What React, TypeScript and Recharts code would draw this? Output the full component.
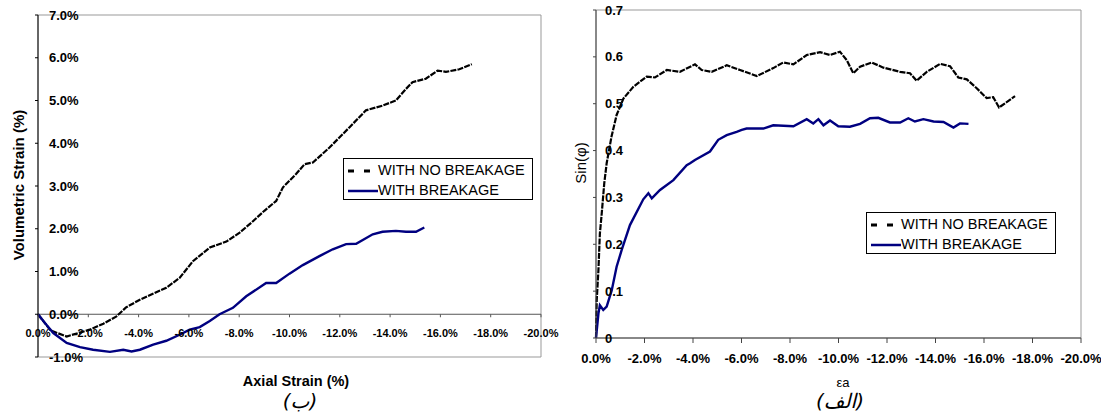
import React from 'react'
import { LineChart, Line, XAxis, YAxis, ReferenceArea, ReferenceLine } from 'recharts'

// left panel (ب): volumetric strain vs axial strain
const volNoBreakX = [0, -0.5, -1.14, -2.06, -2.6, -3.12, -3.5, -4.05, -4.57, -5.1, -5.63, -6.16, -6.83, -7.49, -8.02, -8.5, -9.0, -9.47, -9.74, -10.26, -10.6, -10.93, -11.59, -12.38, -13.04, -13.7, -14.23, -14.63, -14.89, -15.42, -15.89, -16.22, -16.75, -17.25]
const volNoBreakY = [0, -0.38, -0.52, -0.36, -0.22, -0.05, 0.16, 0.34, 0.48, 0.62, 0.85, 1.24, 1.56, 1.7, 1.91, 2.15, 2.42, 2.65, 2.97, 3.28, 3.51, 3.55, 3.9, 4.37, 4.77, 4.88, 5.0, 5.27, 5.43, 5.51, 5.7, 5.67, 5.73, 5.85]
const volBreakX = [0, -0.3, -0.61, -1.14, -1.67, -2.19, -2.86, -3.39, -3.72, -4.05, -4.58, -5.1, -5.63, -6.03, -6.43, -6.83, -7.22, -7.75, -8.28, -9.07, -9.47, -10.0, -10.53, -11.19, -11.72, -12.25, -12.65, -13.31, -13.7, -14.23, -14.63, -15.03, -15.36]
const volBreakY = [0, -0.22, -0.44, -0.67, -0.77, -0.83, -0.88, -0.83, -0.87, -0.83, -0.71, -0.62, -0.48, -0.36, -0.3, -0.16, 0, 0.15, 0.42, 0.73, 0.73, 0.95, 1.15, 1.36, 1.52, 1.64, 1.65, 1.87, 1.93, 1.95, 1.93, 1.93, 2.03]

// right panel (الف): sin(phi) vs axial strain
const sinNoBreakX = [0, -0.03, -0.1, -0.16, -0.23, -0.34, -0.44, -0.64, -0.85, -1.13, -1.54, -2.09, -2.43, -2.92, -3.46, -4.08, -4.36, -4.77, -5.39, -5.94, -6.63, -7.31, -7.72, -8.14, -8.69, -9.24, -9.65, -10.06, -10.34, -10.61, -10.89, -11.37, -11.85, -12.54, -12.95, -13.22, -13.64, -14.19, -14.6, -14.94, -15.29, -15.7, -16.11, -16.38, -16.62, -17.28]
const sinNoBreakY = [0, 0.081, 0.145, 0.223, 0.262, 0.33, 0.373, 0.43, 0.476, 0.511, 0.536, 0.558, 0.556, 0.572, 0.568, 0.584, 0.572, 0.568, 0.582, 0.572, 0.559, 0.576, 0.588, 0.584, 0.604, 0.61, 0.604, 0.611, 0.593, 0.565, 0.579, 0.588, 0.577, 0.568, 0.565, 0.549, 0.568, 0.585, 0.58, 0.556, 0.552, 0.533, 0.512, 0.514, 0.492, 0.516]
const sinBreakX = [0, -0.1, -0.16, -0.3, -0.44, -0.65, -0.85, -1.06, -1.4, -1.95, -2.16, -2.3, -2.64, -3.19, -3.74, -3.88, -4.08, -4.7, -5.04, -5.39, -5.8, -6.01, -6.21, -6.9, -7.31, -8.14, -8.69, -8.96, -9.17, -9.38, -9.65, -9.99, -10.47, -10.89, -11.3, -11.64, -12.12, -12.54, -12.88, -13.15, -13.5, -13.92, -14.33, -14.74, -15.01, -15.36]
const sinBreakY = [0, 0.052, 0.07, 0.06, 0.067, 0.102, 0.152, 0.188, 0.241, 0.296, 0.309, 0.298, 0.316, 0.337, 0.369, 0.373, 0.38, 0.398, 0.423, 0.433, 0.44, 0.444, 0.447, 0.447, 0.454, 0.452, 0.467, 0.458, 0.467, 0.454, 0.464, 0.452, 0.451, 0.457, 0.469, 0.47, 0.46, 0.46, 0.469, 0.462, 0.467, 0.462, 0.461, 0.449, 0.458, 0.457]

const xTicks = [0, -2, -4, -6, -8, -10, -12, -14, -16, -18, -20]
const volTicks = [-1, 0, 1, 2, 3, 4, 5, 6, 7]
const sinTicks = [0, 0.1, 0.2, 0.3, 0.4, 0.5, 0.6, 0.7]

const zip = (xs: number[], ys: number[]) => xs.map((x, i) => ({ x, y: ys[i] }))

const FONT = 'Arial, "Liberation Sans", sans-serif'
const NAVY = '#000080'
const DASH = '6 1.2'

const pct = (v: number) => `${v.toFixed(1)}%`
const dec = (v: number) => (v === 0 ? '0' : v.toFixed(1))

// left chart geometry
const L_PLOT_H = 342
const L_ZERO_OFF = (L_PLOT_H * (0 - volTicks[0])) / (volTicks[volTicks.length - 1] - volTicks[0])

function yTick(fmt: (v: number) => string, offset: number, stroke: string) {
  return (p: any) => (
    <g>
      <line x1={p.x - 3} x2={p.x} y1={p.y} y2={p.y} stroke={stroke} />
      <text x={p.x + offset} y={p.y} dy="0.35em" textAnchor="start" fontSize={13} fontWeight="bold" fontFamily={FONT} fill="#000">
        {fmt(p.payload.value)}
      </text>
    </g>
  )
}

function Legend({ left, top }: { left: number; top: number }) {
  return (
    <div style={{ position: 'absolute', left, top, width: 188, height: 40, border: '1px solid #000', background: '#fff', fontFamily: FONT, fontSize: 14.5, color: '#000' }}>
      <svg width={32} height={40} style={{ position: 'absolute', left: 2, top: 0 }}>
        <line x1={2} x2={8} y1={12} y2={12} stroke="#000" strokeWidth={3} />
        <line x1={18} x2={24} y1={12} y2={12} stroke="#000" strokeWidth={3} />
        <line x1={2} x2={32} y1={32} y2={32} stroke={NAVY} strokeWidth={2.5} />
      </svg>
      <div style={{ position: 'absolute', left: 34, top: 3, lineHeight: '17px' }}>WITH NO BREAKAGE</div>
      <div style={{ position: 'absolute', left: 34, top: 23, lineHeight: '17px' }}>WITH BREAKAGE</div>
    </div>
  )
}

function VolumetricChart() {
  return (
    <LineChart width={560} height={370} margin={{ top: 15, left: 37, right: 19, bottom: 12 }} style={{ position: 'absolute', left: 0, top: 0 }}>
      <ReferenceArea x1={-20} x2={0} y1={-1} y2={7} fill="none" stroke="#999" />
      <XAxis
        type="number"
        dataKey="x"
        domain={[-20, 0]}
        reversed
        ticks={xTicks}
        height={1}
        axisLine={false}
        tickLine={false}
        tickSize={0}
        tickMargin={0}
        interval={0}
        tick={(p: any) => (
          <g>
            <line x1={p.x} x2={p.x} y1={p.y - L_ZERO_OFF} y2={p.y - L_ZERO_OFF + 3} stroke="#555" />
            <text x={p.x} y={p.y - L_ZERO_OFF + 19} dy="0.35em" textAnchor="middle" fontSize={11} fontWeight="bold" fontFamily={FONT} fill="#000">
              {pct(p.payload.value)}
            </text>
          </g>
        )}
      />
      <YAxis type="number" dataKey="y" domain={[-1, 7]} ticks={volTicks} width={1} axisLine={{ stroke: '#000' }} tickLine={false} tickSize={0} tickMargin={0} interval={0} tick={yTick(pct, 11, '#000')} />
      <ReferenceLine y={0} stroke="#555" />
      <Line data={zip(volNoBreakX, volNoBreakY)} dataKey="y" stroke="#000" strokeWidth={2.2} strokeDasharray={DASH} dot={false} isAnimationActive={false} />
      <Line data={zip(volBreakX, volBreakY)} dataKey="y" stroke={NAVY} strokeWidth={2.4} dot={false} isAnimationActive={false} />
    </LineChart>
  )
}

function FrictionChart() {
  return (
    <LineChart width={541} height={370} margin={{ top: 10, left: 35, right: 20, bottom: 31 }} style={{ position: 'absolute', left: 560, top: 0 }}>
      <ReferenceArea x1={-20} x2={0} y1={0} y2={0.7} fill="none" stroke="#999" />
      <XAxis
        type="number"
        dataKey="x"
        domain={[-20, 0]}
        reversed
        ticks={xTicks}
        height={1}
        axisLine={{ stroke: '#444' }}
        tickLine={false}
        tickSize={0}
        tickMargin={0}
        interval={0}
        tick={(p: any) => (
          <g>
            <line x1={p.x} x2={p.x} y1={p.y} y2={p.y + 5} stroke="#444" />
            <text x={p.x} y={p.y + 20} dy="0.35em" textAnchor="middle" fontSize={13} fontWeight="bold" fontFamily={FONT} fill="#000">
              {pct(p.payload.value)}
            </text>
          </g>
        )}
      />
      <YAxis type="number" dataKey="y" domain={[0, 0.7]} ticks={sinTicks} width={1} axisLine={{ stroke: '#444' }} tickLine={false} tickSize={0} tickMargin={0} interval={0} tick={yTick(dec, 9, '#444')} />
      <Line data={zip(sinNoBreakX, sinNoBreakY)} dataKey="y" stroke="#000" strokeWidth={2.2} strokeDasharray={DASH} dot={false} isAnimationActive={false} />
      <Line data={zip(sinBreakX, sinBreakY)} dataKey="y" stroke={NAVY} strokeWidth={2.4} dot={false} isAnimationActive={false} />
    </LineChart>
  )
}

export default function App() {
  return (
    <div style={{ position: 'relative', width: 1101, height: 415, background: '#fff', overflow: 'hidden' }}>
      <style>{'body{margin:0}'}</style>
      <VolumetricChart />
      <FrictionChart />
      <Legend left={343} top={158} />
      <Legend left={866} top={212} />

      <div style={{ position: 'absolute', left: 18, top: 185, transform: 'translate(-50%, -50%) rotate(-90deg)', whiteSpace: 'nowrap', fontFamily: FONT, fontWeight: 'bold', fontSize: 15 }}>
        Volumetric Strain (%)
      </div>
      <div style={{ position: 'absolute', left: 296, top: 381, transform: 'translate(-50%, -50%)', whiteSpace: 'nowrap', fontFamily: FONT, fontWeight: 'bold', fontSize: 14.5 }}>
        Axial Strain (%)
      </div>
      <div style={{ position: 'absolute', left: 300, top: 401, transform: 'translate(-50%, -50%)', whiteSpace: 'nowrap', fontFamily: '"DejaVu Sans", serif', fontStyle: 'italic', fontSize: 20 }}>
        (ب)
      </div>

      <div style={{ position: 'absolute', left: 580, top: 163, transform: 'translate(-50%, -50%) rotate(-90deg)', whiteSpace: 'nowrap', fontFamily: FONT, fontSize: 15 }}>
        Sin(φ)
      </div>
      <div style={{ position: 'absolute', left: 843, top: 382, transform: 'translate(-50%, -50%)', whiteSpace: 'nowrap', fontFamily: FONT, fontSize: 13 }}>
        εa
      </div>
      <div style={{ position: 'absolute', left: 840, top: 401, transform: 'translate(-50%, -50%)', whiteSpace: 'nowrap', fontFamily: '"DejaVu Sans", serif', fontStyle: 'italic', fontSize: 20 }}>
        (الف)
      </div>
    </div>
  )
}
